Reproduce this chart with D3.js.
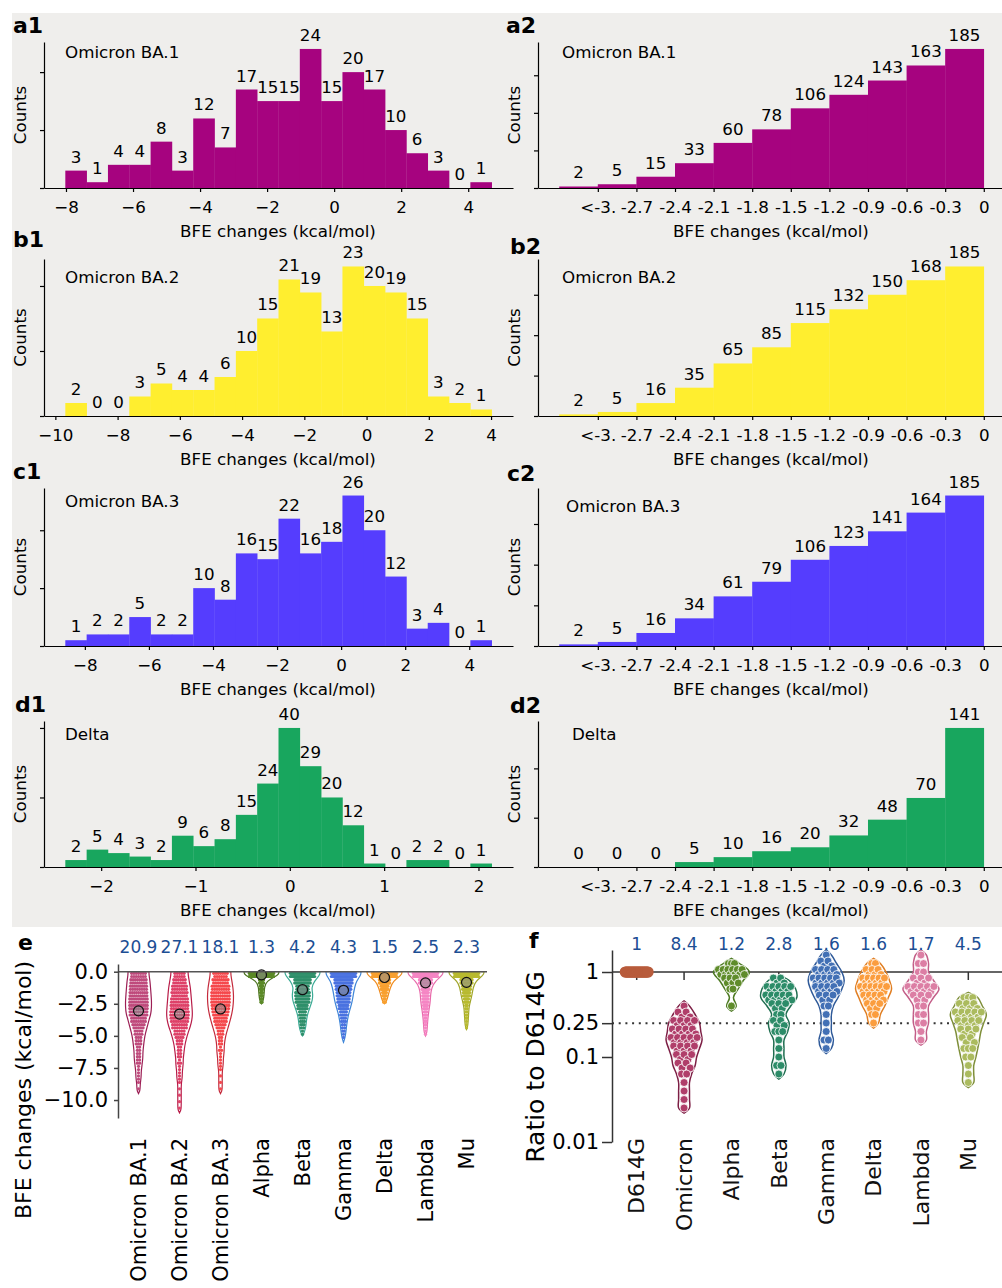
<!DOCTYPE html>
<html>
<head>
<meta charset="utf-8">
<script src="https://cdn.jsdelivr.net/npm/d3@7"></script>
<style>
  body { margin: 0; background: #fff; }
  svg { display: block; }
  text { font-family: "DejaVu Sans", sans-serif; }
</style>
</head>
<body>
<div id="chart"></div>
<script>
// ---------- data: histograms (column 1) ----------
var histNames = ["Omicron BA.1", "Omicron BA.2", "Omicron BA.3", "Delta"];
var countsBA1 = [3, 1, 4, 4, 8, 3, 12, 7, 17, 15, 15, 24, 15, 20, 17, 10, 6, 3, 0, 1];
var countsBA2 = [2, 0, 0, 3, 5, 4, 4, 6, 10, 15, 21, 19, 13, 23, 20, 19, 15, 3, 2, 1];
var countsBA3 = [1, 2, 2, 5, 2, 2, 10, 8, 16, 15, 22, 16, 18, 26, 20, 12, 3, 4, 0, 1];
var countsDelta = [2, 5, 4, 3, 2, 9, 6, 8, 15, 24, 40, 29, 20, 12, 1, 0, 2, 2, 0, 1];
var rangeBA1 = [-8.02, 4.70];
var rangeBA2 = [-9.68, 4.02];
var rangeBA3 = [-8.61, 4.70];
var rangeDelta = [-2.38, 2.14];

// ---------- data: cumulative counts (column 2) ----------
var cumEdges = [-3.3, -3.0, -2.7, -2.4, -2.1, -1.8, -1.5, -1.2, -0.9, -0.6, -0.3, 0];
var cumTickLabels = ["<-3.", "-2.7", "-2.4", "-2.1", "-1.8", "-1.5", "-1.2", "-0.9", "-0.6", "-0.3", "0"];
var cumBA1 = [2, 5, 15, 33, 60, 78, 106, 124, 143, 163, 185];
var cumBA2 = [2, 5, 16, 35, 65, 85, 115, 132, 150, 168, 185];
var cumBA3 = [2, 5, 16, 34, 61, 79, 106, 123, 141, 164, 185];
var cumDelta = [0, 0, 0, 5, 10, 16, 20, 32, 48, 70, 141];

// ---------- data: panel e (counts per 0.5 kcal/mol bin, from 0 downward) ----------
var eNames = ["Omicron BA.1", "Omicron BA.2", "Omicron BA.3", "Alpha", "Beta", "Gamma", "Delta", "Lambda", "Mu"];
var eFold = [20.9, 27.1, 18.1, 1.3, 4.2, 4.3, 1.5, 2.5, 2.3];
var eMeans = [-3.05, -3.3, -2.9, -0.25, -1.4, -1.45, -0.45, -0.87, -0.83];
var eBA1 = [14, 16, 17, 18, 19, 19, 18, 14, 11, 8, 6, 5, 4, 4, 3, 2, 2, 1, 1];
var eBA2 = [10, 12, 14, 15, 16, 17, 18, 17, 14, 10, 7, 5, 4, 3, 3, 2, 2, 1, 1, 1, 1, 1];
var eBA3 = [13, 15, 17, 18, 18, 17, 15, 12, 9, 6, 4, 3, 3, 2, 2, 1, 1, 1, 1];
var eAlpha = [150, 19, 12, 10, 6];
var eBeta = [50, 28, 19, 24, 22, 15, 9, 6, 5, 2];
var eGamma = [50, 32, 26, 22, 19, 14, 9, 6, 4, 3, 1];
var eDelta = [100, 34, 21, 12, 6];
var eLambda = [75, 31, 17, 13, 12, 9, 6, 4, 3, 2];
var eMu = [80, 30, 20, 16, 10, 5, 4, 3, 2];
var eTicks = [0, -2.5, -5, -7.5, -10];

// ---------- data: panel f (counts per 0.1 log10 bin, centres 0.2 .. -1.7) ----------
var fNames = ["D614G", "Omicron", "Alpha", "Beta", "Gamma", "Delta", "Lambda", "Mu"];
var fFold = [1, 8.4, 1.2, 2.8, 1.6, 1.6, 1.7, 4.5];
var fD614G   = [0, 0, 30, 0, 0, 0, 0, 0, 0, 0, 0, 0, 0, 0, 0, 0, 0, 0, 0, 0];
var fOmicron = [0, 0, 0, 0, 0, 0, 1, 4, 7, 8, 9, 7, 5, 4, 2, 1, 1, 1, 1, 0];
var fAlpha   = [0, 3, 12, 6, 2, 0, 1, 0, 0, 0, 0, 0, 0, 0, 0, 0, 0, 0, 0, 0];
var fBeta    = [0, 0, 0, 4, 9, 10, 5, 2, 4, 3, 1, 1, 1, 2, 1, 0, 0, 0, 0, 0];
var fGamma   = [1, 4, 8, 10, 8, 5, 2, 1, 1, 1, 2, 1, 0, 0, 0, 0, 0, 0, 0, 0];
var fDelta   = [0, 2, 6, 9, 11, 8, 5, 2, 1, 0, 0, 0, 0, 0, 0, 0, 0, 0, 0, 0];
var fLambda  = [1, 2, 2, 5, 9, 5, 2, 2, 2, 1, 1, 0, 0, 0, 0, 0, 0, 0, 0, 0];
var fMu      = [0, 0, 0, 0, 0, 3, 6, 9, 7, 5, 4, 3, 2, 1, 1, 1, 0, 0, 0, 0];
var fTicks = [1, 0.25, 0.1, 0.01];
var fTickLabels = ["1", "0.25", "0.1", "0.01"];

// ---------- layout ----------
var W = 1002, H = 1288, FS = 16.7;
var svg = d3.select("#chart").append("svg").attr("width", W).attr("height", H);
svg.append("rect").attr("x", 12).attr("y", 13).attr("width", W - 12).attr("height", 914).attr("fill", "#efeeec");

var rows = [
  {top: 42,  bottom: 188, lab1: [13, 33],  lab2: [506, 33],  note1: 58,  note2: 58,  note2x: 562},
  {top: 259, bottom: 416, lab1: [13, 247], lab2: [510, 254], note1: 283, note2: 283, note2x: 562},
  {top: 488, bottom: 646, lab1: [13, 479], lab2: [507, 481], note1: 507, note2: 512, note2x: 566},
  {top: 721, bottom: 867, lab1: [15, 712], lab2: [510, 713], note1: 740, note2: 740, note2x: 572}
];
var histCounts = [countsBA1, countsBA2, countsBA3, countsDelta];
var histRanges = [rangeBA1, rangeBA2, rangeBA3, rangeDelta];
var cumCounts = [cumBA1, cumBA2, cumBA3, cumDelta];
var histColors = ["#a6037f", "#ffee2f", "#553dfe", "#18a65e"];
var panelIds = ["a", "b", "c", "d"];

function styleAxis(sel, size, family) {
  sel.attr("font-size", size).attr("font-family", family || "DejaVu Sans");
  sel.selectAll("path, line").attr("stroke", "#000").attr("stroke-width", 1.2);
  sel.selectAll("text").attr("fill", "#000");
}

function panelText(g, x, y, txt, size, weight, anchor) {
  return g.append("text").attr("x", x).attr("y", y).attr("font-size", size)
    .attr("font-weight", weight || "normal").attr("text-anchor", anchor || "start").text(txt);
}

function yLabel(g, x, y, txt, size, family) {
  g.append("text").attr("transform", "translate(" + x + "," + y + ") rotate(-90)")
    .attr("text-anchor", "middle").attr("dy", "0.35em").attr("font-size", size)
    .attr("font-family", family || "DejaVu Sans").text(txt);
}

rows.forEach(function (r, k) {
  // ----- column 1: histogram -----
  var counts = histCounts[k], rg = histRanges[k];
  var bw = (rg[1] - rg[0]) / counts.length, pad = 0.05 * (rg[1] - rg[0]);
  var x = d3.scaleLinear().domain([rg[0] - pad, rg[1] + pad]).range([44, 513]);
  var y = d3.scaleLinear().domain([0, d3.max(counts) * 1.05]).range([r.bottom, r.top]);
  var g = svg.append("g");
  var bins = counts.map(function (c, i) { return {c: c, x0: rg[0] + i * bw, x1: rg[0] + (i + 1) * bw}; });
  g.selectAll("rect").data(bins).enter().append("rect")
    .attr("x", function (d) { return x(d.x0); })
    .attr("width", function (d) { return x(d.x1) - x(d.x0) + 0.3; })
    .attr("y", function (d) { return y(d.c); })
    .attr("height", function (d) { return y(0) - y(d.c); })
    .attr("fill", histColors[k]);
  g.selectAll("text.val").data(bins).enter().append("text").attr("class", "val")
    .attr("x", function (d) { return (x(d.x0) + x(d.x1)) / 2; })
    .attr("y", function (d) { return y(d.c) - 8; })
    .attr("text-anchor", "middle").attr("font-size", FS)
    .text(function (d) { return d.c; });
  g.append("g").attr("transform", "translate(0," + r.bottom + ")")
    .call(d3.axisBottom(x).ticks(7).tickSize(4).tickPadding(9).tickSizeOuter(0))
    .call(styleAxis, FS);
  g.append("g").attr("transform", "translate(44,0)")
    .call(d3.axisLeft(y).ticks(2).tickSize(4).tickFormat("").tickSizeOuter(0))
    .call(styleAxis, FS);
  panelText(g, 65, r.note1, histNames[k], FS);
  panelText(g, r.lab1[0], r.lab1[1], panelIds[k] + "1", 22, "bold");
  panelText(g, 278, r.bottom + 49, "BFE changes (kcal/mol)", FS, "normal", "middle");
  yLabel(g, 20, (r.top + r.bottom) / 2, "Counts", FS);

  // ----- column 2: cumulative counts -----
  var cum = cumCounts[k];
  var x2 = d3.scaleLinear().domain([-3.465, 0.165]).range([538, 1005]);
  var y2 = d3.scaleLinear().domain([0, d3.max(cum) * 1.05]).range([r.bottom, r.top]);
  var g2 = svg.append("g");
  var cb = cum.map(function (c, i) { return {c: c, x0: cumEdges[i], x1: cumEdges[i + 1]}; });
  g2.selectAll("rect").data(cb).enter().append("rect")
    .attr("x", function (d) { return x2(d.x0); })
    .attr("width", function (d) { return x2(d.x1) - x2(d.x0) + 0.3; })
    .attr("y", function (d) { return y2(d.c); })
    .attr("height", function (d) { return y2(0) - y2(d.c); })
    .attr("fill", histColors[k]);
  g2.selectAll("text.val").data(cb).enter().append("text").attr("class", "val")
    .attr("x", function (d) { return (x2(d.x0) + x2(d.x1)) / 2; })
    .attr("y", function (d) { return y2(d.c) - 8; })
    .attr("text-anchor", "middle").attr("font-size", FS)
    .text(function (d) { return d.c; });
  g2.append("g").attr("transform", "translate(0," + r.bottom + ")")
    .call(d3.axisBottom(x2).tickValues(cumEdges.slice(1))
      .tickFormat(function (d, i) { return cumTickLabels[i]; })
      .tickSize(4).tickPadding(9).tickSizeOuter(0))
    .call(styleAxis, FS);
  g2.append("g").attr("transform", "translate(538,0)")
    .call(d3.axisLeft(y2).ticks(4).tickSize(4).tickFormat("").tickSizeOuter(0))
    .call(styleAxis, FS);
  panelText(g2, r.note2x, r.note2, histNames[k], FS);
  panelText(g2, r.lab2[0], r.lab2[1], panelIds[k] + "2", 22, "bold");
  panelText(g2, 771, r.bottom + 49, "BFE changes (kcal/mol)", FS, "normal", "middle");
  yLabel(g2, 514, (r.top + r.bottom) / 2, "Counts", FS);
});

// ---------- panel e ----------
var eCounts = [eBA1, eBA2, eBA3, eAlpha, eBeta, eGamma, eDelta, eLambda, eMu];
var eDot = ["#bf4a7c", "#de4168", "#f5484c", "#5c8a28", "#2f8f6a", "#4a72e0", "#f8a030", "#f586c4", "#b8ba30"];
var eLine = ["#9c1f55", "#b81c48", "#c42a3c", "#4c7320", "#3aaa95", "#3f86d8", "#f08c1e", "#e86aaa", "#a0a52a"];
var eMaxHw = [13, 13, 13, 17.5, 17.5, 17.5, 17.5, 17.5, 17.5];
var ex = d3.scaleBand().domain(eNames).range([118, 487]);
var ey = d3.scaleLinear().domain([-11.4, 0.6]).range([1118, 964]);
var ge = svg.append("g");
var eStep = 0.5;

eNames.forEach(function (name, k) {
  var c = eCounts[k], cx = ex(name) + ex.bandwidth() / 2, mx = d3.max(c);
  var hw = d3.scalePow().exponent(0.7).domain([0, mx]).range([0, eMaxHw[k]]);
  var prof = [{v: 0, w: hw(c[0])}];
  c.forEach(function (n, i) { prof.push({v: -(i + 0.5) * eStep, w: hw(n)}); });
  prof.push({v: -c.length * eStep, w: 0});
  var area = d3.area().x0(function (d) { return cx - d.w; }).x1(function (d) { return cx + d.w; })
    .y(function (d) { return ey(d.v); }).curve(d3.curveBasis);
  ge.append("path").attr("d", area(prof)).attr("fill", "none")
    .attr("stroke", eLine[k]).attr("stroke-width", 1.2);
  var dots = [];
  c.forEach(function (n, i) {
    [Math.ceil(n / 2), Math.floor(n / 2)].forEach(function (nr, rI) {
      var v = -(i * eStep + 0.125 + 0.25 * rI);
      var lim = Math.max(hw(n) * 0.75 - 1, 0.5);
      var sp = nr > 1 ? Math.min(2.3, 2 * lim / (nr - 1)) : 0;
      for (var j = 0; j < nr; j++) dots.push({x: cx + (j - (nr - 1) / 2) * sp, v: v});
    });
  });
  ge.append("g").selectAll("circle").data(dots).enter().append("circle")
    .attr("cx", function (d) { return d.x; }).attr("cy", function (d) { return ey(d.v); })
    .attr("r", 1.6).attr("fill", eDot[k]);
  ge.append("circle").attr("cx", cx).attr("cy", ey(eMeans[k])).attr("r", 5)
    .attr("fill", "rgba(140,140,140,0.55)").attr("stroke", "#111").attr("stroke-width", 1.2);
  ge.append("text").attr("x", cx).attr("y", 953).attr("text-anchor", "middle")
    .attr("font-size", 17).attr("fill", "#1c4e94").text(String(eFold[k]));
  ge.append("text").attr("transform", "translate(" + cx + ",1138) rotate(-90)")
    .attr("text-anchor", "end").attr("dy", "0.35em").attr("font-size", 21).text(name);
});
ge.append("line").attr("x1", 118).attr("x2", 487).attr("y1", ey(0)).attr("y2", ey(0))
  .attr("stroke", "#555").attr("stroke-width", 1.5);
ge.append("g").attr("transform", "translate(118,0)")
  .call(d3.axisLeft(ey).tickValues(eTicks).tickFormat(d3.format(".1f")).tickSize(4).tickPadding(6).tickSizeOuter(0))
  .call(styleAxis, 21)
  .call(function (s) { s.selectAll("path, line").attr("stroke", "#444").attr("stroke-width", 1.5); });
yLabel(ge, 23, 1090, "BFE changes (kcal/mol)", 22);
panelText(ge, 18, 950, "e", 22, "bold");

// ---------- panel f ----------
var fCounts = [fD614G, fOmicron, fAlpha, fBeta, fGamma, fDelta, fLambda, fMu];
var fDot = ["#b85c3c", "#b03e6a", "#5f8c2b", "#2c8c68", "#4270b5", "#fb9d3e", "#dc7ea4", "#abbb5e"];
var fLine = ["#b85c3c", "#7d1f45", "#4d7a22", "#1f6e50", "#2f5a99", "#e07e22", "#c35e88", "#7f8f3a"];
var fDotR = [5.5, 4, 4, 4, 4, 4, 4, 4];
var fx = d3.scaleBand().domain(fNames).range([613, 992]);
var fy = d3.scaleLog().domain([0.01, 1.815]).range([1142, 950]);
var gf = svg.append("g");
var ARIAL = "Liberation Sans";

gf.append("line").attr("x1", 612).attr("x2", 1002).attr("y1", fy(1)).attr("y2", fy(1))
  .attr("stroke", "#333").attr("stroke-width", 1.5);
gf.append("line").attr("x1", 612).attr("x2", 990).attr("y1", fy(0.25)).attr("y2", fy(0.25))
  .attr("stroke", "#333").attr("stroke-width", 2).attr("stroke-dasharray", "2,4.7");
gf.append("g").attr("transform", "translate(0," + fy(1) + ")")
  .call(d3.axisBottom(fx).tickSize(8).tickFormat("").tickSizeOuter(0))
  .call(function (s) {
    s.select(".domain").remove();
    s.selectAll("line").attr("stroke", "#333").attr("stroke-width", 1.5);
  });

fNames.forEach(function (name, k) {
  var c = fCounts[k], cx = fx(name) + fx.bandwidth() / 2, mx = d3.max(c);
  var hw = d3.scalePow().exponent(0.7).domain([0, mx]).range([0, 16]);
  var centre = function (i) { return Math.pow(10, 0.2 - 0.1 * i); };
  var idx = [];
  c.forEach(function (n, i) { if (n > 0) idx.push(i); });
  var first = idx[0], last = idx[idx.length - 1];
  if (idx.length > 1) {
    var prof = [{v: Math.pow(10, 0.2 - 0.1 * first + 0.06), w: 0}];
    for (var i = first; i <= last; i++) prof.push({v: centre(i), w: hw(c[i]) + 2});
    prof.push({v: Math.pow(10, 0.2 - 0.1 * last - 0.06), w: 0});
    var area = d3.area().x0(function (d) { return cx - d.w; }).x1(function (d) { return cx + d.w; })
      .y(function (d) { return fy(d.v); }).curve(d3.curveCatmullRom);
    gf.append("path").attr("d", area(prof)).attr("fill", "none")
      .attr("stroke", fLine[k]).attr("stroke-width", 1.5);
  }
  var dots = [], r = fDotR[k];
  c.forEach(function (n, i) {
    var lim = Math.max(hw(n) - r + 1, 0);
    var sp = n > 1 ? Math.min(7.5, 2 * lim / (n - 1)) : 0;
    for (var j = 0; j < n; j++) {
      var off = (idx.length > 1 && n > 3) ? (j % 2 ? 2.5 : -2.5) : 0;
      dots.push({x: cx + (j - (n - 1) / 2) * sp, y: fy(centre(i)) + off});
    }
  });
  gf.append("g").selectAll("circle").data(dots).enter().append("circle")
    .attr("cx", function (d) { return d.x; }).attr("cy", function (d) { return d.y; })
    .attr("r", r).attr("fill", fDot[k]).attr("stroke", idx.length > 1 ? "#fff" : "none")
    .attr("stroke-width", 0.8);
  gf.append("text").attr("x", cx).attr("y", 950).attr("text-anchor", "middle")
    .attr("font-size", 17).attr("fill", "#1c4e94").text(String(fFold[k]));
  gf.append("text").attr("transform", "translate(" + cx + ",1138) rotate(-90)")
    .attr("text-anchor", "end").attr("dy", "0.35em").attr("font-size", 22)
    .attr("font-family", ARIAL).attr("fill", "#111").text(name);
});

gf.append("g").attr("transform", "translate(612,0)")
  .call(d3.axisLeft(fy).tickValues(fTicks).tickFormat(function (d, i) { return fTickLabels[i]; })
    .tickSize(10).tickPadding(3).tickSizeOuter(0))
  .call(styleAxis, 21, ARIAL)
  .call(function (s) { s.selectAll("path, line").attr("stroke", "#333").attr("stroke-width", 1.5); });
yLabel(gf, 535, 1067, "Ratio to D614G", 25, ARIAL);
panelText(gf, 529, 948, "f", 22, "bold");
</script>
</body>
</html>
